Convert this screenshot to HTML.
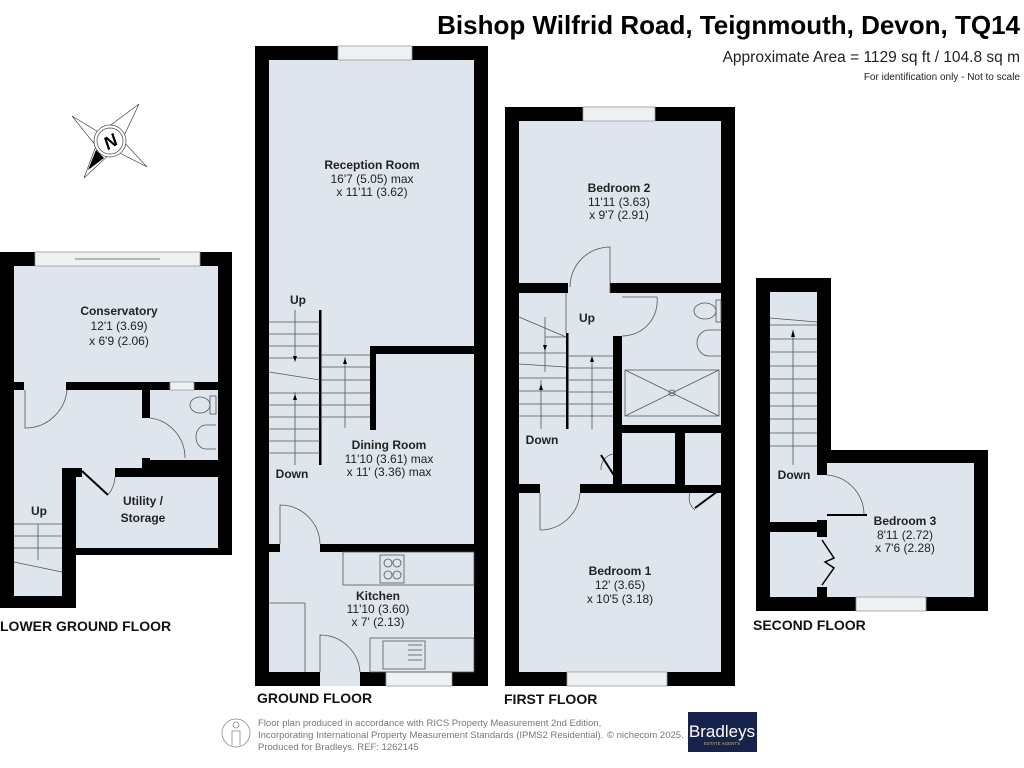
<!DOCTYPE html>
<html><head><meta charset="utf-8"><style>
html,body{margin:0;padding:0;background:#fff;}
svg{display:block;}
text{font-family:"Liberation Sans",Arial,sans-serif;}
.t{font-size:12px;fill:#222;text-anchor:middle;}
.b{font-weight:bold;}
.fl{font-size:14px;font-weight:bold;fill:#111;}
.ln{stroke:#555;stroke-width:0.8;fill:none;}
.w{fill:#000;}
.r{fill:#dfe5ec;}
.win{fill:#eef1f4;stroke:#999;stroke-width:0.8;}
</style></head><body>
<svg width="1024" height="768" viewBox="0 0 1024 768" xmlns="http://www.w3.org/2000/svg">
<rect width="1024" height="768" fill="#fff"/>
<text x="1020" y="34" text-anchor="end" style="font-size:26px;font-weight:bold;fill:#000">Bishop Wilfrid Road, Teignmouth, Devon, TQ14</text>
<text x="1020" y="62" text-anchor="end" style="font-size:15.5px;fill:#222">Approximate Area = 1129 sq ft / 104.8 sq m</text>
<text x="1020" y="80" text-anchor="end" style="font-size:10px;fill:#222">For identification only - Not to scale</text>

<!-- compass -->
<g stroke="#444" stroke-width="0.7" fill="none">
<polygon points="72,116 100,133 139,104 122,140 147,167 114,150 84,178 96,146"/>
<circle cx="110" cy="141" r="16" fill="#fff"/><circle cx="110" cy="141" r="13"/>
</g>
<polygon points="88,170 96,150 104,158" fill="#000"/>
<text x="110" y="148" text-anchor="middle" transform="rotate(-30 110 141)" style="font-size:18px;font-weight:bold;font-style:italic">N</text>

<!-- LOWER GROUND -->
<rect x="0" y="252" width="232" height="303" class="w"/>
<rect x="0" y="540" width="76" height="68" class="w"/>
<rect x="14" y="266" width="204" height="116" class="r"/>
<rect x="14" y="390" width="128" height="78" class="r"/>
<rect x="150" y="390" width="68" height="70" class="r"/>
<rect x="14" y="468" width="48" height="128" class="r"/>
<rect x="76" y="477" width="142" height="71" class="r"/>
<rect x="24" y="382" width="42" height="8" class="r"/>
<rect x="82" y="468" width="33" height="9" class="r"/>
<rect x="142" y="418" width="8" height="40" class="r"/>
<rect x="35" y="252" width="165" height="14" class="win"/>
<line x1="75" y1="259" x2="160" y2="259" class="ln"/>
<rect x="170" y="382" width="24" height="8" class="win"/>
<path d="M25 390 V428 A42 42 0 0 0 67 390" class="ln"/>
<path d="M150 418 A40 40 0 0 1 185 458" class="ln"/>
<line x1="82" y1="471" x2="108" y2="495" stroke="#000" stroke-width="2"/>
<path d="M108 495 A30 30 0 0 0 115 477" class="ln"/>
<g class="ln"><ellipse cx="200" cy="405" rx="10" ry="8"/><rect x="210" y="396" width="6" height="18"/><path d="M216 425 h-10 a10 12 0 0 0 0 24 h10"/>
<line x1="14" y1="524" x2="62" y2="524"/><line x1="14" y1="536" x2="62" y2="536"/><line x1="14" y1="548" x2="62" y2="548"/><line x1="14" y1="562" x2="62" y2="572"/><line x1="38" y1="524" x2="38" y2="560"/></g>
<text x="119" y="315" class="t b">Conservatory</text>
<text x="119" y="330" class="t">12'1 (3.69)</text>
<text x="119" y="345" class="t">x 6'9 (2.06)</text>
<text x="39" y="515" class="t b">Up</text>
<text x="143" y="505" class="t b">Utility /</text>
<text x="143" y="522" class="t b">Storage</text>
<text x="0" y="631" class="fl">LOWER GROUND FLOOR</text>

<!-- GROUND -->
<rect x="255" y="46" width="233" height="640" class="w"/>
<rect x="269" y="60" width="205" height="286" class="r"/>
<rect x="269" y="346" width="101" height="198" class="r"/>
<rect x="376" y="354" width="98" height="190" class="r"/>
<rect x="370" y="430" width="6" height="114" class="r"/>
<rect x="269" y="552" width="205" height="120" class="r"/>
<rect x="280" y="544" width="40" height="8" class="r"/>
<rect x="320" y="672" width="40" height="14" class="r"/>
<rect x="338" y="46" width="74" height="14" class="win"/>
<rect x="386" y="672" width="66" height="14" class="win"/>
<rect x="319" y="310" width="2.5" height="155" fill="#000"/>
<g class="ln">
<line x1="269" y1="322" x2="320" y2="322"/><line x1="269" y1="334" x2="320" y2="334"/><line x1="269" y1="346" x2="320" y2="346"/><line x1="269" y1="358" x2="320" y2="358"/><line x1="269" y1="372" x2="320" y2="380"/><line x1="269" y1="393" x2="320" y2="393"/><line x1="269" y1="405" x2="320" y2="405"/><line x1="269" y1="417" x2="320" y2="417"/><line x1="269" y1="429" x2="320" y2="429"/><line x1="269" y1="441" x2="320" y2="441"/><line x1="269" y1="453" x2="320" y2="453"/>
<line x1="295" y1="310" x2="295" y2="360"/><line x1="295" y1="392" x2="295" y2="465"/>
<line x1="321" y1="355" x2="370" y2="355"/><line x1="321" y1="367" x2="370" y2="367"/><line x1="321" y1="380" x2="370" y2="380"/><line x1="321" y1="393" x2="370" y2="393"/><line x1="321" y1="405" x2="370" y2="405"/><line x1="321" y1="417" x2="370" y2="417"/><line x1="345" y1="357" x2="345" y2="428"/>
<path d="M280 544 V505 A40 40 0 0 1 320 544"/>
<path d="M320 672 V635 A40 40 0 0 1 360 672"/>
<rect x="343" y="552" width="131" height="33"/>
<rect x="380" y="555" width="24" height="28"/><circle cx="388" cy="563" r="4"/><circle cx="397" cy="563" r="4"/><circle cx="388" cy="575" r="4"/><circle cx="397" cy="575" r="4"/>
<line x1="269" y1="603" x2="305" y2="603"/><line x1="305" y1="603" x2="305" y2="672"/>
<rect x="370" y="638" width="104" height="34"/><rect x="383" y="641" width="42" height="28"/><line x1="408" y1="645" x2="422" y2="645"/><line x1="408" y1="650" x2="422" y2="650"/><line x1="408" y1="655" x2="422" y2="655"/><line x1="408" y1="660" x2="422" y2="660"/>
</g>
<polygon points="293,356 297,356 295,362" fill="#000"/><polygon points="293,400 297,400 295,394" fill="#000"/><polygon points="343,364 347,364 345,358" fill="#000"/>
<text x="372" y="169" class="t b">Reception Room</text>
<text x="372" y="183" class="t">16'7 (5.05) max</text>
<text x="372" y="196" class="t">x 11'11 (3.62)</text>
<text x="298" y="304" class="t b">Up</text>
<text x="292" y="478" class="t b">Down</text>
<text x="389" y="449" class="t b">Dining Room</text>
<text x="389" y="463" class="t">11'10 (3.61) max</text>
<text x="389" y="476" class="t">x 11' (3.36) max</text>
<text x="378" y="600" class="t b">Kitchen</text>
<text x="378" y="613" class="t">11'10 (3.60)</text>
<text x="378" y="626" class="t">x 7' (2.13)</text>
<text x="257" y="703" class="fl">GROUND FLOOR</text>

<!-- FIRST -->
<rect x="505" y="107" width="230" height="579" class="w"/>
<rect x="519" y="121" width="202" height="162" class="r"/>
<rect x="519" y="293" width="94" height="132" class="r"/>
<rect x="568" y="283" width="42" height="10" class="r"/>
<rect x="613" y="293" width="9" height="43" class="r"/>
<rect x="622" y="293" width="99" height="132" class="r"/>
<rect x="519" y="425" width="94" height="59" class="r"/>
<rect x="622" y="433" width="53" height="51" class="r"/>
<rect x="685" y="433" width="36" height="52" class="r"/>
<rect x="540" y="484" width="40" height="9" class="r"/>
<rect x="519" y="493" width="202" height="179" class="r"/>
<rect x="583" y="107" width="72" height="14" class="win"/>
<rect x="567" y="672" width="100" height="14" class="win"/>
<rect x="566" y="333" width="2.5" height="96" fill="#000"/>
<g class="ln">
<path d="M610 293 V247 A40 40 0 0 0 570 287"/>
<path d="M622 297 h35 A35 35 0 0 1 622 336"/>
<line x1="519" y1="317" x2="566" y2="337"/><line x1="545" y1="337" x2="566" y2="337"/><line x1="545" y1="317" x2="545" y2="372"/><line x1="566" y1="293" x2="566" y2="333"/>
<line x1="519" y1="353" x2="566" y2="353"/><line x1="519" y1="364" x2="566" y2="367"/><line x1="519" y1="378" x2="566" y2="378"/><line x1="519" y1="391" x2="566" y2="391"/><line x1="519" y1="404" x2="566" y2="404"/><line x1="519" y1="416" x2="566" y2="416"/><line x1="541" y1="380" x2="541" y2="429"/>
<line x1="569" y1="356" x2="613" y2="356"/><line x1="569" y1="368" x2="613" y2="368"/><line x1="569" y1="380" x2="613" y2="380"/><line x1="569" y1="392" x2="613" y2="392"/><line x1="569" y1="404" x2="613" y2="404"/><line x1="569" y1="416" x2="613" y2="416"/><line x1="592" y1="358" x2="592" y2="429"/>
<ellipse cx="705" cy="311" rx="11" ry="8"/><rect x="716" y="300" width="5" height="22"/><path d="M721 330 h-12 a12 13 0 0 0 0 26 h12"/>
<rect x="625" y="370" width="94" height="46"/><line x1="625" y1="370" x2="719" y2="416"/><line x1="625" y1="416" x2="719" y2="370"/><circle cx="672" cy="393" r="3"/>
<path d="M540 493 V530 A40 40 0 0 0 580 493"/>
<path d="M601 470 A15 15 0 0 1 613 454"/>
<path d="M690 493 A15 15 0 0 0 695 510"/>
</g>
<line x1="601" y1="455" x2="617" y2="480" stroke="#000" stroke-width="2"/>
<line x1="695" y1="508" x2="718" y2="491" stroke="#000" stroke-width="2"/>
<polygon points="543,345 547,345 545,351" fill="#000"/><polygon points="539,390 543,390 541,384" fill="#000"/><polygon points="590,362 594,362 592,356" fill="#000"/>
<text x="619" y="192" class="t b">Bedroom 2</text>
<text x="619" y="206" class="t">11'11 (3.63)</text>
<text x="619" y="219" class="t">x 9'7 (2.91)</text>
<text x="587" y="322" class="t b">Up</text>
<text x="542" y="444" class="t b">Down</text>
<text x="620" y="575" class="t b">Bedroom 1</text>
<text x="620" y="589" class="t">12' (3.65)</text>
<text x="620" y="603" class="t">x 10'5 (3.18)</text>
<text x="504" y="704" class="fl">FIRST FLOOR</text>

<!-- SECOND -->
<rect x="756" y="278" width="75" height="333" class="w"/>
<rect x="756" y="450" width="232" height="161" class="w"/>
<rect x="770" y="292" width="47" height="230" class="r"/>
<rect x="827" y="463" width="147" height="134" class="r"/>
<rect x="817" y="475" width="10" height="45" class="r"/>
<rect x="770" y="532" width="47" height="65" class="r"/>
<rect x="817" y="537" width="10" height="50" class="r"/>
<rect x="856" y="597" width="70" height="14" class="win"/>
<g class="ln">
<line x1="770" y1="318" x2="817" y2="322"/><line x1="770" y1="325" x2="817" y2="325"/><line x1="770" y1="339" x2="817" y2="339"/><line x1="770" y1="352" x2="817" y2="352"/><line x1="770" y1="366" x2="817" y2="366"/><line x1="770" y1="379" x2="817" y2="379"/><line x1="770" y1="393" x2="817" y2="393"/><line x1="770" y1="406" x2="817" y2="406"/><line x1="770" y1="419" x2="817" y2="419"/><line x1="770" y1="433" x2="817" y2="433"/><line x1="770" y1="446" x2="817" y2="446"/><line x1="793" y1="330" x2="793" y2="465"/>
<path d="M827 475 A40 40 0 0 1 864 515"/>
</g>
<polygon points="791,337 795,337 793,330" fill="#000"/>
<rect x="827" y="514" width="40" height="2" fill="#000"/>
<path d="M822 540 L834 558 L825 562 L834 568 L822 585" stroke="#000" stroke-width="1.5" fill="none"/>
<text x="794" y="479" class="t b">Down</text>
<text x="905" y="525" class="t b">Bedroom 3</text>
<text x="905" y="539" class="t">8'11 (2.72)</text>
<text x="905" y="552" class="t">x 7'6 (2.28)</text>
<text x="753" y="630" class="fl">SECOND FLOOR</text>

<!-- footer -->
<g stroke="#888" stroke-width="0.8" fill="none"><circle cx="236" cy="733" r="14"/><circle cx="236" cy="725" r="3"/><path d="M232 745 v-14 h8 v14"/></g>
<text x="258" y="726" style="font-size:9.5px;fill:#777">Floor plan produced in accordance with RICS Property Measurement 2nd Edition,</text>
<text x="258" y="738" style="font-size:9.5px;fill:#777">Incorporating International Property Measurement Standards (IPMS2 Residential).</text>
<text x="258" y="750" style="font-size:9.5px;fill:#777">Produced for Bradleys.   REF: 1262145</text>
<text x="607" y="738" style="font-size:9.5px;fill:#777">© nichecom 2025.</text>
<rect x="688" y="712" width="69" height="40" fill="#17234a"/>
<text x="722" y="737" text-anchor="middle" style="font-size:17px;fill:#fff">Bradleys</text>
<text x="722" y="745" text-anchor="middle" style="font-size:4.5px;fill:#c8b84a">ESTATE AGENTS</text>
</svg>
</body></html>
